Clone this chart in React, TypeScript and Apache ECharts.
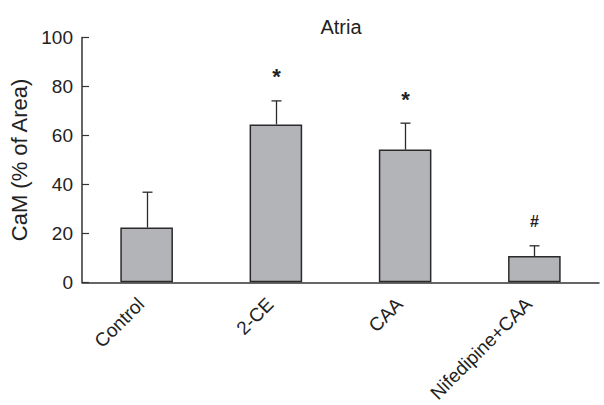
import React, { useEffect, useRef } from "react";
import * as echarts from "echarts";

const categories = ["Control", "2-CE", "CAA", "Nifedipine+CAA"];
const means = [22.4, 64.5, 54.2, 10.7];
const errorTops = [36.8, 74.1, 65.0, 14.9];
const marks = ["", "*", "*", "#"];
const yTicks = [0, 20, 40, 60, 80, 100];

const FONT = "Liberation Sans, Arial, Helvetica, sans-serif";

export default function App() {
  const ref = useRef<HTMLDivElement>(null);
  useEffect(() => {
    if (!ref.current) return;
    const chart = echarts.init(ref.current, null, { renderer: "svg" });
    const errData = categories.map((_, i) => [i, means[i], errorTops[i]]);
    chart.setOption({
      animation: false,
      backgroundColor: "#ffffff",
      title: {
        text: "Atria",
        left: 336,
        top: 12,
        textAlign: "center",
        textStyle: { fontFamily: FONT, fontSize: 20, fontWeight: "normal", color: "#222" },
      },
      grid: { left: 82, right: 5, top: 37.5, bottom: 121, containLabel: false },
      xAxis: {
        type: "category",
        data: categories,
        axisLine: { lineStyle: { color: "#333", width: 1.5 } },
        axisTick: { inside: true, length: 7, lineStyle: { color: "#333", width: 1.2 } },
        axisLabel: {
          rotate: 45,
          margin: 13,
          padding: [0, 8, 0, 0],
          fontFamily: FONT,
          fontSize: 19,
          color: "#222",
        },
      },
      yAxis: {
        type: "value",
        min: yTicks[0],
        max: yTicks[yTicks.length - 1],
        interval: 20,
        name: "CaM (% of Area)",
        nameLocation: "middle",
        nameGap: 47,
        nameRotate: 90,
        nameTextStyle: { fontFamily: FONT, fontSize: 22, color: "#222" },
        splitLine: { show: false },
        axisLine: { show: true, lineStyle: { color: "#333", width: 1.5 } },
        axisTick: { show: true, inside: true, length: 7, lineStyle: { color: "#333", width: 1.2 } },
        axisLabel: { margin: 9, fontFamily: FONT, fontSize: 19, color: "#222" },
      },
      series: [
        {
          type: "bar",
          data: means,
          barWidth: "40.7%",
          itemStyle: { color: "#b3b4b8", borderColor: "#2a2a2a", borderWidth: 1.5 },
          z: 2,
        },
        {
          type: "custom",
          data: errData,
          z: 3,
          renderItem: (params: any, api: any) => {
            const i = api.value(0);
            const top = api.coord([i, api.value(2)]);
            const base = api.coord([i, api.value(1)]);
            const x = Math.round(base[0]) + 0.5;
            const cap = 5;
            const children: any[] = [
              {
                type: "line",
                shape: { x1: x, y1: base[1], x2: x, y2: top[1] },
                style: { stroke: "#2a2a2a", lineWidth: 1.3 },
              },
              {
                type: "line",
                shape: { x1: x - cap, y1: top[1], x2: x + cap, y2: top[1] },
                style: { stroke: "#2a2a2a", lineWidth: 1.3 },
              },
            ];
            const m = marks[params.dataIndex];
            if (m) {
              const isStar = m === "*";
              children.push({
                type: "text",
                style: {
                  text: m,
                  x: x,
                  y: top[1] - (isStar ? 24 : 24),
                  textAlign: "center",
                  textVerticalAlign: "middle",
                  fontFamily: FONT,
                  fontWeight: "bold",
                  fontSize: isStar ? 22 : 16,
                  fill: "#222",
                },
              });
            }
            return { type: "group", children };
          },
        },
      ],
    });
    return () => chart.dispose();
  }, []);
  return <div ref={ref} style={{ width: 604, height: 405, position: "absolute", left: 0, top: 0 }} />;
}
